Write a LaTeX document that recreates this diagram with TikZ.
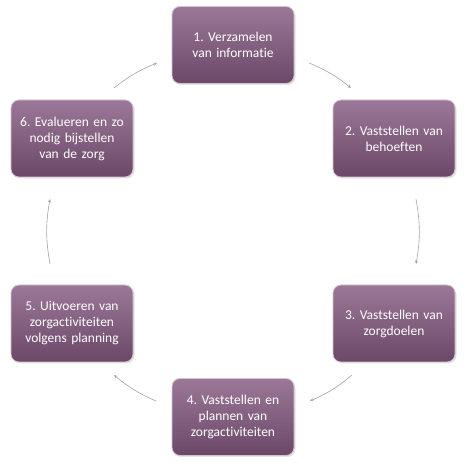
\documentclass[tikz,border=0pt]{standalone}
\usepackage{fontspec}
\setmainfont[Ligatures=NoCommon]{Carlito}
\usepackage{xcolor}
\usepackage{tikz}
\usetikzlibrary{shapes,arrows,positioning,calc,shadows,arrows.meta}
\definecolor{paarslicht}{HTML}{9C7898}
\definecolor{paarsdonker}{HTML}{6C4868}
\definecolor{paarsrand}{HTML}{D2C2CF}
\definecolor{pijlgrijs}{HTML}{A3A3A3}
\frenchspacing
\begin{document}
\begin{tikzpicture}[x=1pt,y=1pt,
    stap/.style={rectangle, rounded corners=8pt, minimum width=122pt, minimum height=77pt,
        text width=114pt, align=center, text=white, top color=paarslicht, bottom color=paarsdonker,
        draw=paarsrand, line width=0.8pt, font=\fontsize{13.5}{16}\selectfont,
        drop shadow={fill=black!30, opacity=0.35, shadow xshift=1.5pt, shadow yshift=-1.5pt}},
    pijl/.style={draw=pijlgrijs, line width=0.6pt, -{Stealth[length=3.5pt,width=3pt]}}]
    \useasboundingbox (0,0) rectangle (474,474);
    \fill[white] (0,0) rectangle (474,474);

    % Stappen
    \node[stap] (b1) at (233,429) {1. Verzamelen\\van informatie};
    \node[stap] (b2) at (394,335.5) {2. Vaststellen van\\behoeften};
    \node[stap] (b3) at (394,150.5) {3. Vaststellen van\\zorgdoelen};
    \node[stap] (b4) at (233,57) {4. Vaststellen en\\plannen van\\zorgactiviteiten};
    \node[stap] (b5) at (72,150.5) {5. Uitvoeren van\\zorgactiviteiten\\volgens planning};
    \node[stap] (b6) at (72,335.5) {6. Evalueren en zo\\nodig bijstellen\\van de zorg};

    % Pijlen
    \coordinate (p12a) at (309,411); \coordinate (p12b) at (351,386);
    \coordinate (p23a) at (416,275); \coordinate (p23b) at (416,210);
    \coordinate (p34a) at (352,99);  \coordinate (p34b) at (310,73);
    \coordinate (p45a) at (156,73);  \coordinate (p45b) at (114,99);
    \coordinate (p56a) at (50,210);  \coordinate (p56b) at (50,275);
    \coordinate (p61a) at (114,386); \coordinate (p61b) at (157,411);
    \draw[pijl] (p12a) to[bend left=8] (p12b);
    \draw[pijl] (p23a) to[bend left=10] (p23b);
    \draw[pijl] (p34a) to[bend left=8] (p34b);
    \draw[pijl] (p45a) to[bend left=8] (p45b);
    \draw[pijl] (p56a) to[bend left=10] (p56b);
    \draw[pijl] (p61a) to[bend left=8] (p61b);
\end{tikzpicture}
\end{document}
